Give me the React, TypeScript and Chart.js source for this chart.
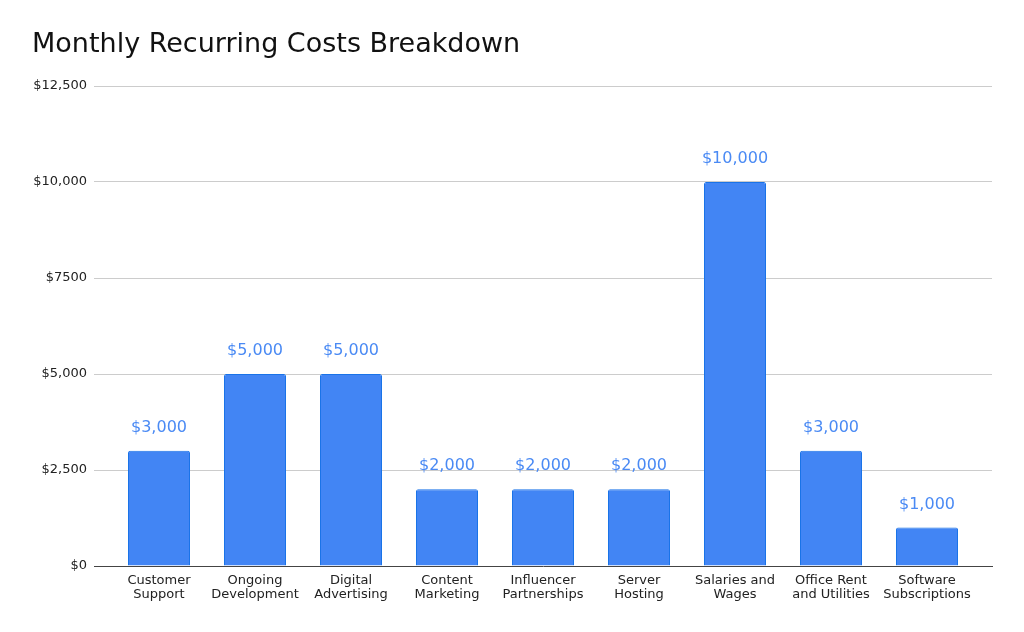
import React, { useEffect, useRef } from "react";
import { Chart, registerables } from "chart.js";

Chart.register(...registerables);

const title = "Monthly Recurring Costs Breakdown";
const categories: string[][] = [
  ["Customer", "Support"],
  ["Ongoing", "Development"],
  ["Digital", "Advertising"],
  ["Content", "Marketing"],
  ["Influencer", "Partnerships"],
  ["Server", "Hosting"],
  ["Salaries and", "Wages"],
  ["Office Rent", "and Utilities"],
  ["Software", "Subscriptions"],
];
const costs: number[] = [3000, 5000, 5000, 2000, 2000, 2000, 10000, 3000, 1000];
const yTickValues: number[] = [0, 2500, 5000, 7500, 10000, 12500];
const yTickLabels: string[] = ["$0", "$2,500", "$5,000", "$7500", "$10,000", "$12,500"];
const valueLabels: string[] = ["$3,000", "$5,000", "$5,000", "$2,000", "$2,000", "$2,000", "$10,000", "$3,000", "$1,000"];

const FONT = "'DejaVu Sans', Verdana, sans-serif";

export default function App() {
  const ref = useRef<HTMLCanvasElement | null>(null);
  useEffect(() => {
    if (!ref.current) return;
    const titlePlugin = {
      id: "customTitle",
      afterDraw(chart: any) {
        const ctx = chart.ctx;
        ctx.save();
        ctx.font = `27px ${FONT}`;
        ctx.fillStyle = "#111111";
        ctx.textAlign = "left";
        ctx.textBaseline = "middle";
        ctx.fillText(title, 32, 45);
        ctx.restore();
      },
    };
    const labelPlugin = {
      id: "valueLabels",
      afterDatasetsDraw(chart: any) {
        const ctx = chart.ctx;
        const meta = chart.getDatasetMeta(0);
        ctx.save();
        ctx.font = `16px ${FONT}`;
        ctx.fillStyle = "#4a8af4";
        ctx.textAlign = "center";
        ctx.textBaseline = "middle";
        meta.data.forEach((bar: any, i: number) => {
          ctx.fillText(valueLabels[i], bar.x, bar.y - 23);
        });
        ctx.restore();
      },
    };
    const chart = new Chart(ref.current, {
      type: "bar",
      data: {
        datasets: [
          {
            data: costs.map((v, i) => ({ x: i, y: v })),
            backgroundColor: "#4285f4",
            borderColor: "#1a73e8",
            borderWidth: 1,
            borderRadius: 2,
            borderSkipped: "bottom",
            barPercentage: 0.646,
            categoryPercentage: 1,
          },
        ],
      },
      options: {
        animation: false,
        responsive: false,
        maintainAspectRatio: false,
        layout: { padding: { top: 86, right: 32, left: 0, bottom: 0 } },
        plugins: {
          legend: { display: false },
          title: { display: false },
          tooltip: { enabled: false },
        },
        scales: {
          x: {
            type: "linear",
            offset: false,
            min: -0.677,
            max: 8.677,
            afterBuildTicks: (scale: any) => {
              scale.ticks = categories.map((_, i) => ({ value: i }));
            },
            afterFit: (scale: any) => {
              scale.height = 66;
            },
            grid: { display: false, drawTicks: false, offset: false },
            border: { display: true, color: "#444444", width: 1 },
            ticks: {
              autoSkip: false,
              maxRotation: 0,
              padding: 7,
              color: "#222222",
              font: { family: FONT, size: 13, lineHeight: 1.1 },
              callback: (v: any) => categories[Number(v)] ?? "",
            },
          },
          y: {
            min: 0,
            max: 12500,
            afterBuildTicks: (scale: any) => {
              scale.ticks = yTickValues.map((v) => ({ value: v }));
            },
            afterFit: (scale: any) => {
              scale.width = 94;
            },
            grid: {
              drawTicks: false,
              color: (c: any) => (c.tick && c.tick.value === 0 ? "rgba(0,0,0,0)" : "#cccccc"),
              lineWidth: 1,
            },
            border: { display: false },
            ticks: {
              padding: 7,
              color: "#222222",
              font: { family: FONT, size: 13 },
              callback: (v: any) => {
                const idx = yTickValues.indexOf(Number(v));
                return idx >= 0 ? yTickLabels[idx] : "";
              },
            },
          },
        },
      } as any,
      plugins: [titlePlugin, labelPlugin],
    });
    return () => chart.destroy();
  }, []);
  return (
    <div style={{ position: "fixed", left: 0, top: 0, width: 1024, height: 632, background: "#ffffff" }}>
      <canvas ref={ref} width={1024} height={632} style={{ width: 1024, height: 632, display: "block" }} />
    </div>
  );
}
